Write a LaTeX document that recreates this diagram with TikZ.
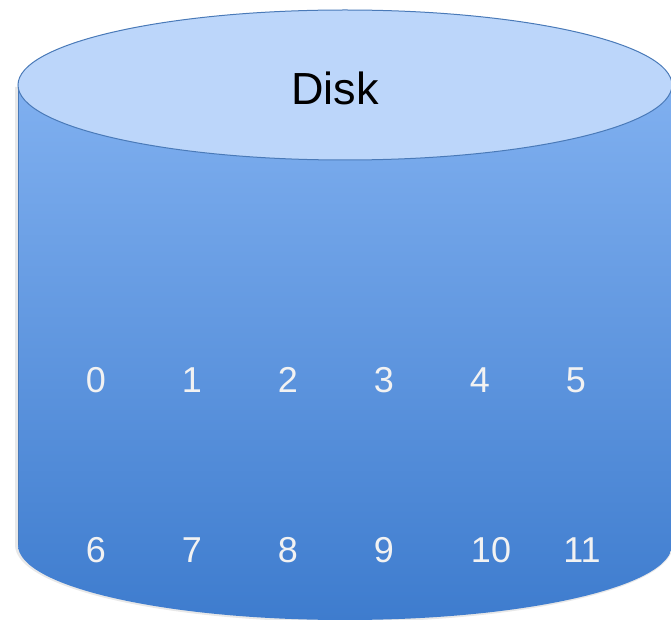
\documentclass[tikz,border=0pt]{standalone}
\usepackage{fontspec}
\setmainfont{Liberation Sans}
\definecolor{topfill}{RGB}{188,214,250}
\definecolor{edge}{RGB}{74,122,184}
\definecolor{bodytop}{RGB}{128,176,240}
\definecolor{bodybot}{RGB}{62,124,206}
\definecolor{digit}{RGB}{242,242,242}
\tikzset{
  cell/.style={text=digit, font=\fontsize{36}{40}\selectfont, inner sep=0pt, anchor=center},
  disklabel/.style={text=black, font=\fontsize{45}{50}\selectfont, inner sep=0pt},
}
\begin{document}
\begin{tikzpicture}[x=1pt,y=-1pt]
  \useasboundingbox (0,0) rectangle (671,620);
  % soft shadow behind the body
  \fill[black!18, opacity=0.5] (15,87) -- (15,545) arc[start angle=180, end angle=0, x radius=329, y radius=77] -- (673,87) -- cycle;
  % cylinder body with vertical shading
  \shade[top color=bodytop, bottom color=bodybot]
    (18,85) -- (18,545) arc[start angle=180, end angle=0, x radius=327, y radius=75] -- (672,85) -- cycle;
  \draw[edge, line width=0.9pt] (18,85) -- (18,545);
  % top face
  \draw[edge, line width=1pt, fill=topfill] (345,85) ellipse[x radius=327, y radius=75];
  \node[disklabel] (disk) at (335,88) {Disk};
  % block numbers
  \node[cell] (b0) at (96,380) {0};
  \node[cell] (b1) at (192,380) {1};
  \node[cell] (b2) at (288,380) {2};
  \node[cell] (b3) at (384,380) {3};
  \node[cell] (b4) at (480,380) {4};
  \node[cell] (b5) at (576,380) {5};
  \node[cell] (b6) at (96,550) {6};
  \node[cell] (b7) at (192,550) {7};
  \node[cell] (b8) at (288,550) {8};
  \node[cell] (b9) at (384,550) {9};
  \node[cell] (b10) at (491,550) {10};
  \node[cell] (b11) at (582,550) {11};
\end{tikzpicture}
\end{document}
